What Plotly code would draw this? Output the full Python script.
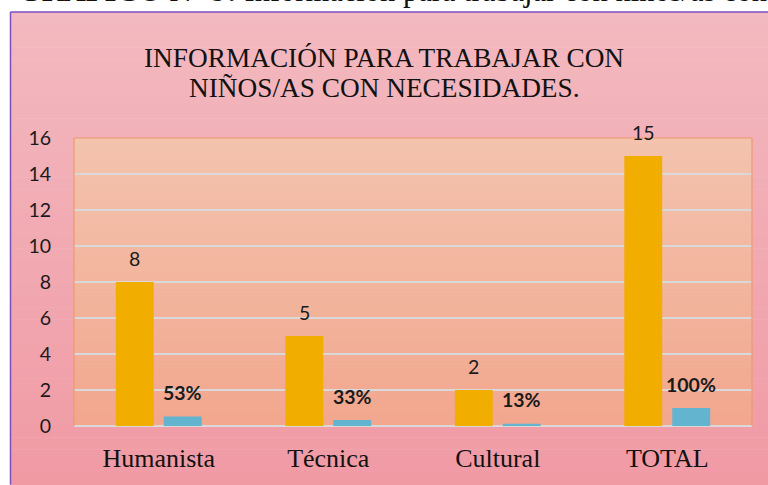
import plotly.graph_objects as go

categories = ["Humanista", "Técnica", "Cultural", "TOTAL"]
frecuencia = [8, 5, 2, 15]
porcentaje = [0.53, 0.33, 0.13, 1.0]
porcentaje_labels = ["53%", "33%", "13%", "100%"]
y_ticks = [0, 2, 4, 6, 8, 10, 12, 14, 16]
title_lines = ["INFORMACIÓN PARA TRABAJAR CON", "NIÑOS/AS CON NECESIDADES."]
caption = "<b>GRÁFICO N° 9:</b> Información para trabajar con niños/as con necesidades"

W, H = 768, 485
L, R, T, B = 74, 16, 138, 57
PW, PH = W - L - R, H - T - B


def px(x):
    return (x - L) / PW


def py(y):
    return (H - B - y) / PH


def hexrgb(h):
    h = h.lstrip("#")
    return tuple(int(h[i:i + 2], 16) for i in (0, 2, 4))


def mix(c1, c2, t):
    a, b = hexrgb(c1), hexrgb(c2)
    return "rgb(%d,%d,%d)" % tuple(round(a[i] + (b[i] - a[i]) * t) for i in range(3))


def gradient(x0, x1, y0, y1, ctop, cbot, n=40):
    out = []
    for i in range(n):
        ya = y0 + (y1 - y0) * i / n
        yb = y0 + (y1 - y0) * (i + 1) / n + 0.5
        out.append(dict(type="rect", xref="paper", yref="paper",
                        x0=px(x0), x1=px(x1), y0=py(ya), y1=py(yb),
                        fillcolor=mix(ctop, cbot, (i + 0.5) / n),
                        line=dict(width=0), layer="below"))
    return out


shapes = []
shapes += gradient(10, W + 2, 11, H + 2, "#f3b9c0", "#f09aa4")
shapes += gradient(L, L + PW, T, T + PH, "#f3c3ae", "#f2a78e")
# chart frame (purple)
shapes.append(dict(type="line", xref="paper", yref="paper", x0=px(10.5), x1=px(W + 2),
                   y0=py(11), y1=py(11), line=dict(color="#7a4fbf", width=1.5), layer="above"))
shapes.append(dict(type="line", xref="paper", yref="paper", x0=px(10.5), x1=px(10.5),
                   y0=py(11), y1=py(H + 2), line=dict(color="#7a4fbf", width=1.5), layer="above"))
# plot area border (orange) top/left/right
for (xa, ya, xb, yb) in [(L, T, L + PW, T), (L, T, L, T + PH), (L + PW, T, L + PW, T + PH)]:
    shapes.append(dict(type="line", xref="paper", yref="paper", x0=px(xa), x1=px(xb),
                       y0=py(ya), y1=py(yb), line=dict(color="#ee9a6c", width=1.2), layer="above"))

fig = go.Figure()
fig.add_trace(go.Bar(x=categories, y=frecuencia, marker=dict(color="#f1ad00", line=dict(width=0)),
                     name="Frecuencia", hoverinfo="skip"))
fig.add_trace(go.Bar(x=categories, y=porcentaje, marker=dict(color="#62b4cf", line=dict(width=0)),
                     name="Porcentaje", hoverinfo="skip"))

annotations = []
for c, v in zip(categories, frecuencia):
    annotations.append(dict(x=c, y=v, xref="x", yref="y", text=str(v), showarrow=False,
                            xshift=-24, yshift=24, yanchor="middle",
                            font=dict(family="Lato", size=19.5, color="#1a1a1a")))
for c, v, t in zip(categories, porcentaje, porcentaje_labels):
    annotations.append(dict(x=c, y=v, xref="x", yref="y", text="<b>" + t + "</b>", showarrow=False,
                            xshift=24, yshift=24, yanchor="middle",
                            font=dict(family="Lato", size=19.5, color="#1a1a1a")))
for i, line in enumerate(title_lines):
    annotations.append(dict(x=px(384), y=py(57 + 31 * i), xref="paper", yref="paper", text=line,
                            showarrow=False, xanchor="center", yanchor="middle",
                            font=dict(family="Liberation Serif", size=27.3, color="#111111")))
annotations.append(dict(x=px(16), y=py(9), xref="paper", yref="paper", text=caption,
                        showarrow=False, xanchor="left", yanchor="bottom",
                        font=dict(family="Liberation Serif", size=30.5, color="#111111")))

fig.update_layout(
    width=W, height=H,
    margin=dict(l=L, r=R, t=T, b=B, pad=0),
    paper_bgcolor="white",
    plot_bgcolor="rgba(0,0,0,0)",
    barmode="group", bargap=0.434, bargroupgap=0.21,
    showlegend=False,
    shapes=shapes,
    annotations=annotations,
    xaxis=dict(showgrid=False, showline=False, ticks="",
               tickfont=dict(family="Liberation Serif", size=26, color="#111111"),
               ticklabelstandoff=14),
    yaxis=dict(range=[0, 16], tickvals=y_ticks, showgrid=True, gridcolor="#d9d9d9", gridwidth=2,
               zeroline=True, zerolinecolor="#d9d9d9", zerolinewidth=2, showline=False, ticks="",
               tickfont=dict(family="Lato", size=19.5, color="#1a1a1a"),
               ticklabelstandoff=22),
)

fig.write_html("out.html", config={"displayModeBar": False},
               post_script="document.body.style.margin='0';document.body.style.overflow='hidden';")
